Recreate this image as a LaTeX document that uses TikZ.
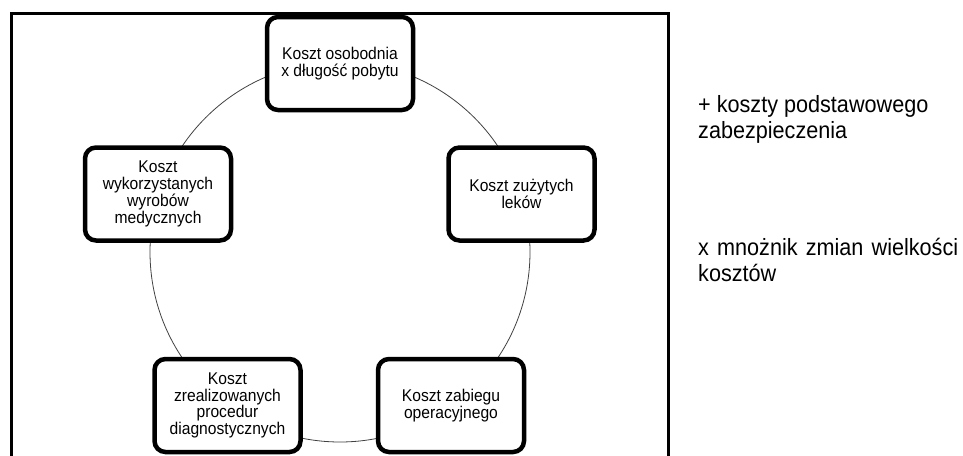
\documentclass[tikz,border=0pt]{standalone}
\usepackage{fontspec}
\setmainfont[FakeStretch=0.92]{Liberation Sans}
\usetikzlibrary{shadows}
\begin{document}
\begin{tikzpicture}[x=1pt,y=-1pt,
  costbox/.style={draw=black, line width=4.5pt, rounded corners=11pt, fill=white,
    minimum width=146pt, minimum height=93pt, align=center, inner sep=0pt,
    font=\fontsize{17}{16.8}\selectfont,
    drop shadow={opacity=0.12, shadow xshift=1.5pt, shadow yshift=-1.5pt}},
  sidetext/.style={anchor=base west, align=left, inner sep=0pt,
    font=\fontsize{23.5}{26.5}\selectfont}]
\useasboundingbox (0,0) rectangle (963,455);
\draw[line width=3pt] (11,470) -- (11,13.3) -- (668,13.3) -- (668,470);
\coordinate (c) at (340,252);
\draw[line width=0.8pt, black!75] (c) circle[radius=190];
\node[costbox] (top) at (340,63.5) {Koszt osobodnia\\x długość pobytu};
\node[costbox] (right) at (521.5,194) {Koszt zużytych\\leków};
\node[costbox] (left) at (158,194) {Koszt\\wykorzystanych\\wyrobów\\medycznych};
\node[costbox] (bl) at (227.5,405.5) {Koszt\\zrealizowanych\\procedur\\diagnostycznych};
\node[costbox] (br) at (451,405.5) {Koszt zabiegu\\operacyjnego};
\node[sidetext] (plus) at (698,138.5) {+ koszty podstawowego\\zabezpieczenia};
\node[sidetext] (times) at (698,281.5) {\makebox[260pt][s]{x mnożnik zmian wielkości}\\kosztów};
\end{tikzpicture}
\end{document}
